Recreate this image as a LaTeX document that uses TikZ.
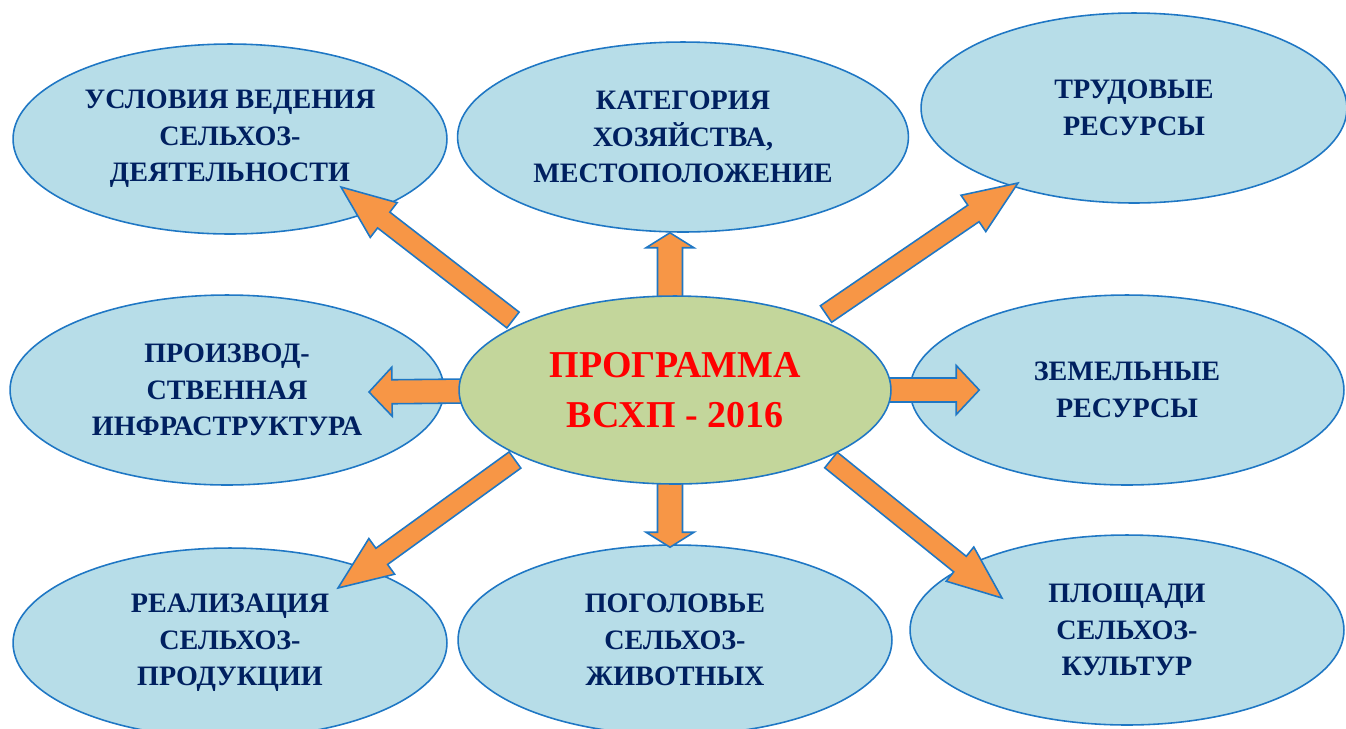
\documentclass[tikz,border=0pt]{standalone}
\usepackage{fontspec}
\setmainfont{Liberation Serif}
\usetikzlibrary{shapes.geometric,calc}
\definecolor{ovalfill}{HTML}{B7DDE8}
\definecolor{ovalline}{HTML}{1F77C4}
\definecolor{hubfill}{HTML}{C3D69B}
\definecolor{arrowfill}{HTML}{F79646}
\definecolor{navytext}{HTML}{002060}
\pgfdeclarelayer{foreground}
\pgfsetlayers{main,foreground}
\tikzset{leaf/.style={ellipse,fill=ovalfill,draw=ovalline,line width=0.9pt,
minimum width=8.68cm,minimum height=3.8cm,inner sep=0pt,align=center,
text=navytext,font=\fontsize{16}{20.8}\selectfont\bfseries},
hub/.style={leaf,fill=hubfill,minimum width=8.64cm,minimum height=3.76cm,
text=red,font=\fontsize{21.6}{28.5}\selectfont\bfseries},
fat/.style={fill=arrowfill,draw=ovalline,line width=0.9pt,line join=miter}}
\newcommand{\fatarrow}[5]{%
  \coordinate (fa-base) at ($(#2)!#5!(#1)$);
  \draw[fat] ($(#1)!#3!90:(#2)$) -- ($(fa-base)!#3!90:(#2)$)
    -- ($(fa-base)!#4!90:(#2)$) -- (#2) -- ($(fa-base)!#4!-90:(#2)$)
    -- ($(fa-base)!#3!-90:(#2)$) -- ($(#1)!#3!-90:(#2)$) -- cycle;
}

\begin{document}
\begin{tikzpicture}[x=0.02cm,y=-0.02cm]
  \useasboundingbox (0,0) rectangle (1346,728);
  \node (usl) [leaf] at (230,139) {УСЛОВИЯ ВЕДЕНИЯ\\СЕЛЬХОЗ-\\ДЕЯТЕЛЬНОСТИ};
  \node (kat) [leaf,minimum width=9.02cm] at (683,137) {КАТЕГОРИЯ\\ХОЗЯЙСТВА,\\МЕСТОПОЛОЖЕНИЕ};
  \node (trud) [leaf,minimum width=8.52cm] at (1134,108) {ТРУДОВЫЕ\\РЕСУРСЫ};
  \node (proizv) [leaf] at (227,390) {ПРОИЗВОД-\\СТВЕННАЯ\\ИНФРАСТРУКТУРА};
  \node (zem) [leaf] at (1127,390) {ЗЕМЕЛЬНЫЕ\\РЕСУРСЫ};
  \node (real) [leaf] at (230,643) {РЕАЛИЗАЦИЯ\\СЕЛЬХОЗ-\\ПРОДУКЦИИ};
  \node (pogol) [leaf] at (675,640) {ПОГОЛОВЬЕ\\СЕЛЬХОЗ-\\ЖИВОТНЫХ};
  \node (plosh) [leaf] at (1127,630) {ПЛОЩАДИ\\СЕЛЬХОЗ-\\КУЛЬТУР};
  \begin{pgfonlayer}{foreground}
    \node (prog) [hub] at (675,390) {ПРОГРАММА\\ВСХП - 2016};
  \end{pgfonlayer}

  \coordinate (p-n) at ($(prog.center)+(-5,-88)$);
  \coordinate (p-s) at ($(prog.center)+(-5,88)$);
  \coordinate (p-w) at ($(prog.center)+(-210,1)$);
  \coordinate (p-e) at ($(prog.center)+(210,0)$);
  \coordinate (p-nw) at ($(prog.center)+(-162,-70)$);
  \coordinate (p-ne) at ($(prog.center)+(151,-76)$);
  \coordinate (p-sw) at ($(prog.center)+(-160,70)$);
  \coordinate (p-se) at ($(prog.center)+(156,70)$);

  \coordinate (kat-in) at ($(kat.south)+(-13,0)$);
  \coordinate (pogol-in) at ($(pogol.north)+(-5,3)$);
  \coordinate (proizv-in) at ($(proizv.center)+(142,2)$);
  \coordinate (zem-in) at ($(zem.west)+(70,0)$);
  \coordinate (usl-in) at ($(usl.center)+(111,48)$);
  \coordinate (trud-in) at ($(trud.center)+(-116,75)$);
  \coordinate (real-in) at ($(real.center)+(108,-55)$);
  \coordinate (plosh-in) at ($(plosh.center)+(-125,-32)$);

  \fatarrow{p-n}{kat-in}{0.25cm}{0.48cm}{0.3cm}
  \fatarrow{p-s}{pogol-in}{0.25cm}{0.48cm}{0.3cm}
  \fatarrow{p-w}{proizv-in}{0.24cm}{0.49cm}{0.46cm}
  \fatarrow{p-e}{zem-in}{0.24cm}{0.49cm}{0.46cm}
  \fatarrow{p-nw}{usl-in}{0.2cm}{0.44cm}{1.08cm}
  \fatarrow{p-ne}{trud-in}{0.2cm}{0.44cm}{1.08cm}
  \fatarrow{p-sw}{real-in}{0.2cm}{0.44cm}{1.08cm}
  \fatarrow{p-se}{plosh-in}{0.2cm}{0.44cm}{1.08cm}
\end{tikzpicture}
\end{document}
